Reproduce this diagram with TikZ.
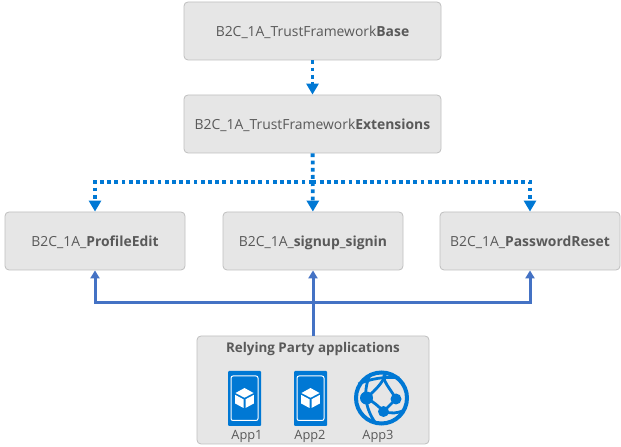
\documentclass[tikz,border=0pt]{standalone}
\usepackage{fontspec}
\setmainfont{Open Sans}
\usetikzlibrary{arrows.meta}
\definecolor{boxfill}{HTML}{E6E6E6}
\definecolor{boxline}{HTML}{BFBFBF}
\definecolor{boxtext}{HTML}{595959}
\definecolor{azure}{HTML}{0078D4}
\definecolor{appline}{HTML}{4472C4}
\tikzset{
    policy/.style = {rectangle, rounded corners=4pt, draw=boxline, fill=boxfill, text=boxtext, line width=0.8pt, font=\fontsize{13.9pt}{16pt}\selectfont, minimum height=58pt, inner sep=0pt, text depth=-1pt},
    inherit/.style = {azure, line width=3.8pt, dash pattern=on 3.8pt off 3.4pt, -{Triangle[width=12pt,length=11pt,sep=0pt]}},
    uses/.style = {appline, line width=3pt, -{Triangle[width=9pt,length=8pt]}},
    applabel/.style = {text=boxtext, font=\fontsize{12.8pt}{15pt}\selectfont, inner sep=0pt},
    phone/.pic = {
        \fill[azure, rounded corners=1pt] (-16.5pt,-27.5pt) rectangle (16.5pt,27.5pt);
        \draw[white, line width=1pt, rounded corners=2pt] (-13.5pt,-22pt) rectangle (13.5pt,22.5pt);
        \fill[white] (0,10.5pt) -- (9pt,5.5pt) -- (0,0.8pt) -- (-9pt,5.5pt) -- cycle;
        \fill[white] (-9.3pt,3.6pt) -- (-1pt,-0.8pt) -- (-1pt,-9.5pt) -- (-9.3pt,-5pt) -- cycle;
        \fill[white] (9.3pt,3.6pt) -- (1pt,-0.8pt) -- (1pt,-9.5pt) -- (9.3pt,-5pt) -- cycle;
    },
}
\begin{document}
\begin{tikzpicture}
    \useasboundingbox (0,0) rectangle (621pt,447pt);

    \node[policy, minimum width=257pt] (base) at (312.5pt,416pt) {B2C\_1A\_TrustFramework\textbf{Base}};
    \node[policy, minimum width=257pt] (extensions) at (312.5pt,323pt) {B2C\_1A\_TrustFramework\textbf{Extensions}};
    \node[policy, minimum width=180pt] (profile) at (95pt,206pt) {B2C\_1A\_\textbf{ProfileEdit}};
    \node[policy, minimum width=180pt] (signin) at (313pt,206pt) {B2C\_1A\_\textbf{signup\_signin}};
    \node[policy, minimum width=180pt] (reset) at (530pt,206pt) {B2C\_1A\_\textbf{PasswordReset}};
    \node[policy, minimum width=232pt, minimum height=108pt] (party) at (313pt,57pt) {};
    \node[text=boxtext, font=\fontsize{13.4pt}{16pt}\selectfont\bfseries, inner sep=0pt] (partytitle) at (313pt,97.5pt) {Relying Party applications};

    % apps
    \pic (phone1) at (244.5pt,48.5pt) {phone};
    \pic (phone2) at (310.5pt,48.5pt) {phone};
    \node[applabel] (app1) at (247pt,11pt) {App1};
    \node[applabel] (app2) at (310pt,11pt) {App2};
    \node[applabel] (app3) at (378pt,11pt) {App3};

    \begin{scope}[shift={(381.5pt,49pt)}, azure]
        \coordinate (globe) at (0,0);
        \draw[line width=4pt] (globe) circle (25.5pt);
        \draw[line width=2.8pt] (-11pt,24pt) .. controls (-18pt,10pt) and (-18pt,-8pt) .. (-6pt,-25pt);
        \draw[line width=2.8pt] (-23pt,14pt) .. controls (-12pt,19pt) and (4pt,22pt) .. (18pt,20pt);
        \draw[line width=2.8pt] (-15pt,0pt) .. controls (-6pt,8pt) and (2pt,16pt) .. (4pt,24pt);
        \draw[line width=2.8pt] (4pt,24pt) .. controls (-2pt,20pt) and (10pt,8pt) .. (14.5pt,-1pt);
        \draw[line width=2.8pt] (-15pt,0pt) .. controls (-8pt,-4pt) and (-3pt,-8pt) .. (2pt,-13.5pt);
        \draw[line width=2.8pt] (2pt,-13.5pt) -- (14.5pt,-1pt);
        \draw[line width=2.8pt] (2pt,-13.5pt) .. controls (10pt,-16pt) and (16pt,-15pt) .. (21pt,-13pt);
        \fill (-15pt,0pt) circle (6.5pt);
        \fill (14.5pt,-1pt) circle (5.5pt);
        \fill (2pt,-13.5pt) circle (5.5pt);
    \end{scope}

    % connectors
    \coordinate (dotbus) at (312.5pt,265pt);
    \coordinate (linebus) at (313pt,144pt);

    \draw[inherit] (base) -- (extensions);
    \draw[inherit] (extensions) -- (signin);
    \draw[inherit] (dotbus) -| (profile);
    \draw[inherit] (dotbus) -| (reset);

    \draw[uses] (party) -- (signin);
    \draw[uses] (linebus) -| (profile);
    \draw[uses] (linebus) -| (reset);
\end{tikzpicture}
\end{document}
